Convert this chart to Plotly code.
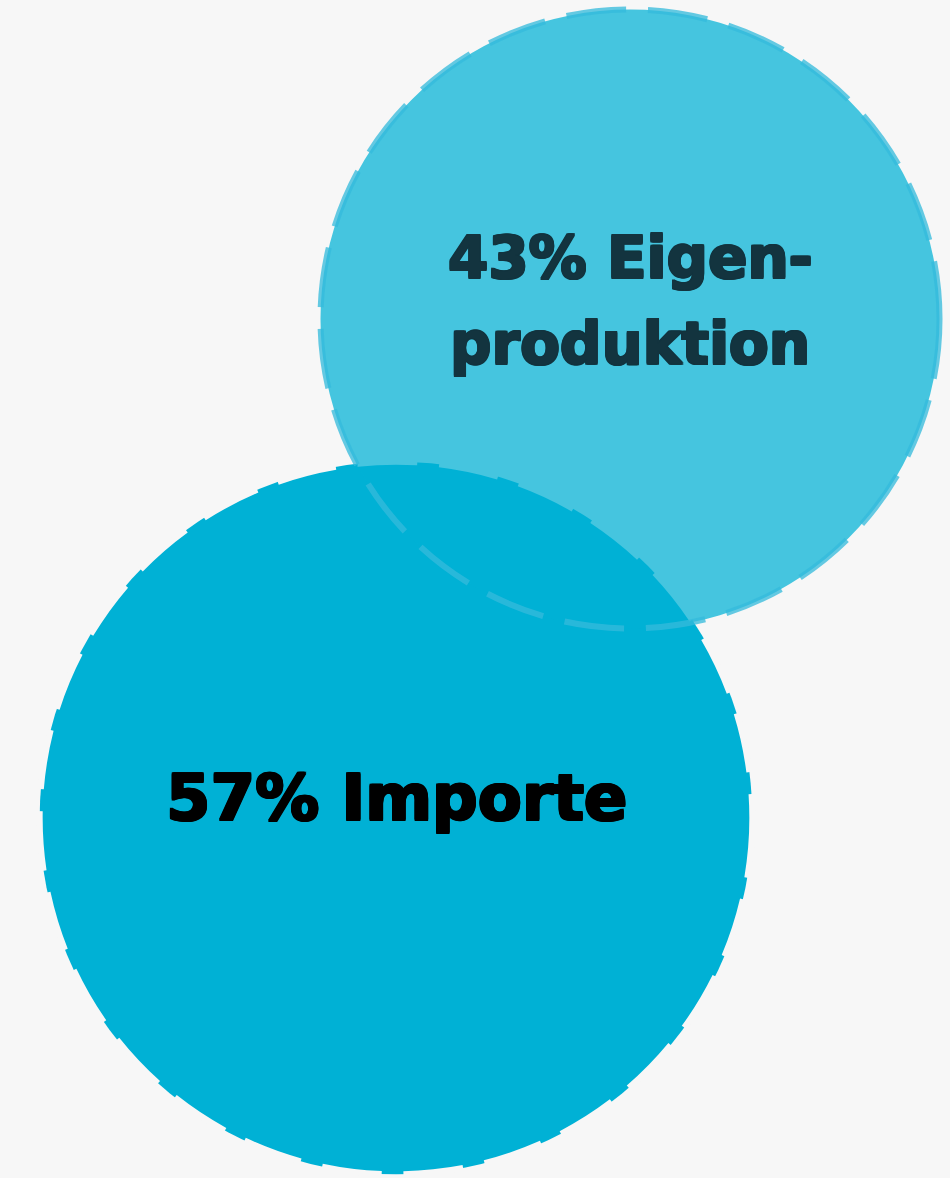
import numpy as np
import plotly.graph_objects as go

# ---- data ----
categories = ["Importe", "Eigenproduktion"]
shares = [57, 43]  # percent
label_texts = ["57% Importe", "43% Eigen-<br>produktion"]

# ---- layout / styling (not data) ----
W, H = 950, 1178
BG = "#F7F7F7"
centers = [(396, 818), (630, 319)]          # circle centres in pixel space
radius_per_sqrt = 47.2                      # area-proportional scale
fills = ["#00B1D5", "rgba(0,177,213,0.72)"]
lines = [BG, "rgba(53,187,220,0.76)"]
line_widths = [6, 6]
text_colors = ["#000000", "#13343F"]
font_sizes = [64, 58]
text_shift = [20, 18]
line_gap = 86


def heavy(color):
    o = 1.1
    return ", ".join(f"{dx}px {dy}px 0 {color}" for dx, dy in
                     [(o, 0), (-o, 0), (0, o), (0, -o), (o, o), (-o, -o), (o, -o), (-o, o)])


fig = go.Figure()
shapes = []
annotations = []
for i, v in enumerate(shares):
    r = radius_per_sqrt * np.sqrt(v)
    cx, cy = centers[i]
    shapes.append(dict(
        type="circle", xref="x", yref="y",
        x0=cx - r, x1=cx + r, y0=cy - r, y1=cy + r,
        fillcolor=fills[i],
        line=dict(color=lines[i], width=line_widths[i], dash="60px,22px"),
        layer="above",
    ))
    parts = label_texts[i].split("<br>")
    n = len(parts)
    for j, part in enumerate(parts):
        annotations.append(dict(
            x=cx, y=cy, xref="x", yref="y", text=f"<b>{part}</b>",
            showarrow=False, yanchor="middle",
            yshift=text_shift[i] - (j - (n - 1) / 2) * line_gap,
            font=dict(family="DejaVu Sans", size=font_sizes[i], color=text_colors[i],
                      shadow=heavy(text_colors[i])),
            align="center",
        ))

# invisible trace so axes exist
fig.add_trace(go.Scatter(x=[c[0] for c in centers], y=[c[1] for c in centers],
                         mode="markers", marker=dict(opacity=0), hoverinfo="skip",
                         showlegend=False, customdata=categories))

fig.update_layout(
    width=W, height=H,
    margin=dict(l=0, r=0, t=0, b=0),
    paper_bgcolor=BG, plot_bgcolor=BG,
    shapes=shapes, annotations=annotations,
    xaxis=dict(range=[0, W], visible=False, fixedrange=True),
    yaxis=dict(range=[H, 0], visible=False, fixedrange=True),
    showlegend=False,
)
fig.write_html("out.html", config={"displayModeBar": False},
               post_script="document.body.style.margin='0';document.body.style.background='%s';" % BG)
